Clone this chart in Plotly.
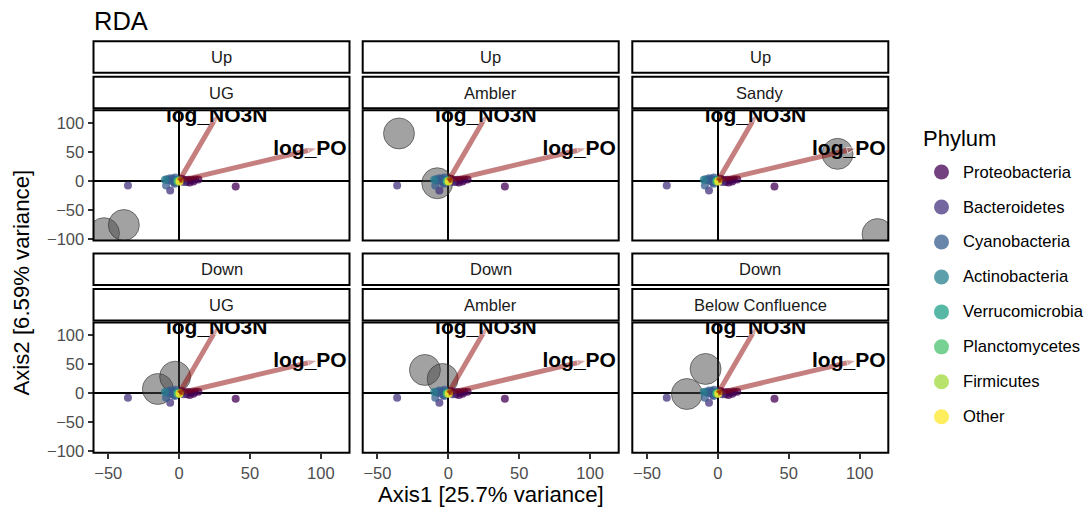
import plotly.graph_objects as go

# page body has an 8px margin: figure is placed at (8, 8)
OFF = 8
W, H = 1092 - OFF, 518 - 2 * OFF
SY = 518.0 / 510.0   # captured page height is rescaled to the 510px picture

# ---------------- data ----------------
phyla = ["Proteobacteria", "Bacteroidetes", "Cyanobacteria", "Actinobacteria",
         "Verrucomicrobia", "Planctomycetes", "Firmicutes", "Other"]
phylum_colors = ["#440154", "#46337E", "#365C8D", "#277F8E",
                 "#1FA187", "#4AC16D", "#9FDA3A", "#FDE725"]

species_phylum = (["Proteobacteria"] * 10 + ["Bacteroidetes"] * 4 + ["Cyanobacteria"] * 9 +
                  ["Actinobacteria"] * 2 + ["Verrucomicrobia", "Planctomycetes", "Firmicutes", "Other"])
species_x = [39.9, 1.9, 4.2, 6.6, 8.9, 11.3, 13.6, 5.4, 10.1, 7.5,
             -36.1, -6.3, 3.0, -3.5,
             -9.2, -8.7, -6.3, -4.5, -2.8, -7.5, -1.6, -5.2, -3.0,
             -1.5, -10.0,
             -0.5, -1.0, 0.5, 0.2]
species_y = [-9.5, 3.7, 1.5, 2.0, 1.5, 2.5, 2.5, -2.0, -1.0, -3.0,
             -7.8, -16.4, -2.0, -3.0,
             -7.8, 2.6, 4.5, 3.7, 5.8, 0.9, 2.0, -0.3, -5.0,
             0.5, 2.0,
             1.0, -1.0, 0.5, -0.9]

panel_direction = ["Up", "Up", "Up", "Down", "Down", "Down"]
panel_site = ["UG", "Ambler", "Sandy", "UG", "Ambler", "Below Confluence"]

sample_panel = [0, 0, 1, 1, 2, 2, 3, 3, 4, 4, 5, 5]
sample_x = [-53.0, -39.0, -34.8, -7.8, 84.4, 112.6, -15.0, -2.8, -16.5, -4.0, -8.7, -21.9]
sample_y = [-90.0, -76.0, 81.6, -4.1, 46.5, -91.6, 7.2, 28.4, 40.0, 24.5, 41.7, -1.4]

env_names = ["log_NO3N", "log_PO"]
env_x = [27.9, 97.7]
env_y = [116.8, 56.2]
env_label_x = [26.5, 92.3]
env_label_y = [111.0, 53.8]

x_ticks = [-50, 0, 50, 100]
y_ticks = [-100, -50, 0, 50, 100]
x_range = [-60.4, 120.2]
y_range = [-102.6, 121.5]

title_text = "RDA"
x_title = "Axis1 [25.7% variance]"
y_title = "Axis2 [6.59% variance]"
legend_title = "Phylum"

# ---------------- geometry (target picture pixels) ----------------
col_left = [93.5, 362.7, 632.3]
panel_w = 256
row_top = [110, 322]
panel_h = 130
FONT = "Liberation Sans, Arial, Helvetica, sans-serif"


def fx(px):
    return (px - OFF) / W


def fy(py):
    return 1 - (py * SY - OFF) / H


fig = go.Figure()
layout = dict(width=W, height=H, autosize=False, margin=dict(l=0, r=0, t=0, b=0),
              paper_bgcolor="white", plot_bgcolor="rgba(0,0,0,0)", showlegend=False,
              font=dict(family=FONT, color="black"))
shapes, annotations = [], []

color_of = dict(zip(phyla, phylum_colors))

for i in range(6):
    r, c = divmod(i, 3)
    l = col_left[c]
    t = row_top[r]
    suf = "" if i == 0 else str(i + 1)
    xa, ya = "xaxis" + suf, "yaxis" + suf
    xr, yr = "x" + suf, "y" + suf
    bottom = (r == 1)
    left = (c == 0)
    layout[xa] = dict(domain=[fx(l), fx(l + panel_w)], anchor=yr, range=x_range,
                      showgrid=False, zeroline=True, zerolinecolor="black", zerolinewidth=1.8,
                      showline=False, tickvals=x_ticks, ticks="outside" if bottom else "",
                      ticklen=5, tickwidth=1.5, tickcolor="#333333",
                      showticklabels=bottom, tickfont=dict(size=16.5, color="#4D4D4D", family=FONT),
                      fixedrange=True)
    layout[ya] = dict(domain=[fy(t + panel_h), fy(t)], anchor=xr, range=y_range,
                      showgrid=False, zeroline=True, zerolinecolor="black", zerolinewidth=1.8,
                      showline=False, tickvals=y_ticks, ticks="outside" if left else "",
                      ticklen=5, tickwidth=1.5, tickcolor="#333333",
                      showticklabels=left, tickfont=dict(size=16.5, color="#4D4D4D", family=FONT),
                      fixedrange=True)

    # sample circles
    sx = [x for p, x in zip(sample_panel, sample_x) if p == i]
    sy = [y for p, y in zip(sample_panel, sample_y) if p == i]
    fig.add_trace(go.Scatter(x=sx, y=sy, mode="markers", xaxis=xr, yaxis=yr,
                             marker=dict(size=31, color="rgba(70,70,70,0.5)",
                                         line=dict(width=1, color="rgba(40,40,40,0.55)")),
                             hoverinfo="skip"))
    # species points
    for ph in phyla:
        px_ = [x for p, x in zip(species_phylum, species_x) if p == ph]
        py_ = [y for p, y in zip(species_phylum, species_y) if p == ph]
        fig.add_trace(go.Scatter(x=px_, y=py_, mode="markers", xaxis=xr, yaxis=yr,
                                 marker=dict(size=8, color=color_of[ph], opacity=0.75),
                                 hoverinfo="skip"))
    # environmental arrows (drawn over the species points)
    for k in range(len(env_names)):
        fig.add_trace(go.Scatter(x=[0, env_x[k]], y=[0, env_y[k]], mode="lines+markers",
                                 xaxis=xr, yaxis=yr,
                                 line=dict(width=5, color="rgba(139,0,0,0.5)"),
                                 marker=dict(size=[0, 10], symbol="arrow", angleref="previous",
                                             color="rgba(139,0,0,0.5)"),
                                 hoverinfo="skip"))
    # env labels
    fig.add_trace(go.Scatter(x=env_label_x, y=env_label_y, mode="text", text=env_names,
                             xaxis=xr, yaxis=yr, textposition="middle center",
                             textfont=dict(size=21, color="black", family=FONT, weight="bold"),
                             cliponaxis=True, hoverinfo="skip"))

    # panel border
    shapes.append(dict(type="rect", xref=f"{xr} domain", yref=f"{yr} domain", x0=0, x1=1, y0=0, y1=1,
                       line=dict(color="black", width=2), fillcolor="rgba(0,0,0,0)", layer="above"))
    # strips
    for (s0, s1), txt in [((t - 69, t - 37.5), panel_direction[i]), ((t - 33.5, t - 2), panel_site[i])]:
        shapes.append(dict(type="rect", xref="paper", yref="paper",
                           x0=fx(l), x1=fx(l + panel_w), y0=fy(s1), y1=fy(s0),
                           line=dict(color="black", width=2), fillcolor="white", layer="above"))
        annotations.append(dict(x=fx(l + panel_w / 2), y=fy((s0 + s1) / 2), xref="paper", yref="paper",
                                text=txt, showarrow=False, xanchor="center", yanchor="middle",
                                font=dict(size=16.5, color="#1A1A1A", family=FONT)))

# titles
annotations.append(dict(x=fx(92), y=fy(21), xref="paper", yref="paper", text=title_text,
                        showarrow=False, xanchor="left", yanchor="middle",
                        font=dict(size=25.5, color="black", family=FONT)))
annotations.append(dict(x=fx(491), y=fy(494), xref="paper", yref="paper", text=x_title,
                        showarrow=False, xanchor="center", yanchor="middle",
                        font=dict(size=22.2, color="black", family=FONT)))
annotations.append(dict(x=fx(22), y=fy(282), xref="paper", yref="paper", text=y_title,
                        showarrow=False, xanchor="center", yanchor="middle", textangle=-90,
                        font=dict(size=22.2, color="black", family=FONT)))

# manual legend (positions in target picture pixels)
leg_y0, leg_dy = 171.7, 34.9
leg_ys = [leg_y0 + k * leg_dy for k in range(len(phyla))]
layout["xaxis7"] = dict(domain=[0, 1], range=[0, 1], visible=False, fixedrange=True, anchor="y7")
layout["yaxis7"] = dict(domain=[0, 1], range=[0, 1], visible=False, fixedrange=True, anchor="x7")
fig.add_trace(go.Scatter(x=[fx(941.5)] * len(phyla), y=[fy(v) for v in leg_ys], mode="markers",
                         xaxis="x7", yaxis="y7",
                         marker=dict(size=15, color=phylum_colors, opacity=0.75),
                         hoverinfo="skip", cliponaxis=False))
for ph, yy in zip(phyla, leg_ys):
    annotations.append(dict(x=fx(961), y=fy(yy), xref="paper", yref="paper", text=ph,
                            showarrow=False, xanchor="left", yanchor="middle",
                            font=dict(size=16.6, color="black", family=FONT)))
annotations.append(dict(x=fx(921), y=fy(138), xref="paper", yref="paper", text=legend_title,
                        showarrow=False, xanchor="left", yanchor="middle",
                        font=dict(size=22, color="black", family=FONT)))

layout["shapes"] = shapes
layout["annotations"] = annotations
fig.update_layout(**layout)
fig.write_html("out.html")
